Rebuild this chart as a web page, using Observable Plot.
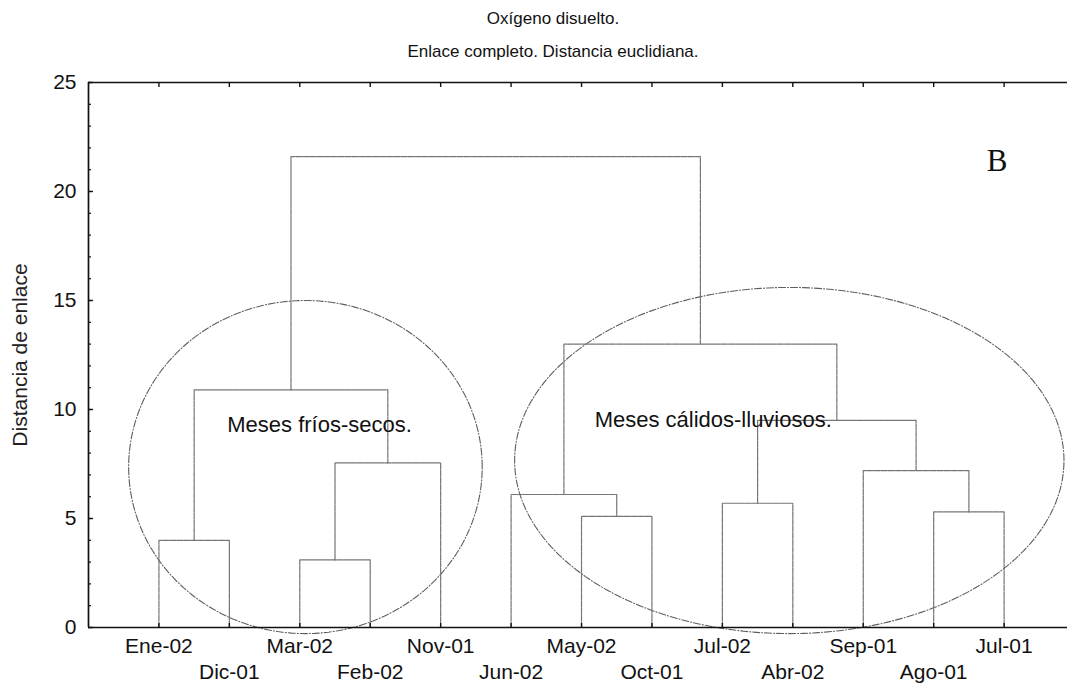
<!DOCTYPE html>
<html>
<head>
<meta charset="utf-8">
<script src="https://cdn.jsdelivr.net/npm/d3@7"></script>
<script src="https://cdn.jsdelivr.net/npm/@observablehq/plot@0.6"></script>
<style>
  html, body { margin: 0; padding: 0; background: #fff; }
  #chart svg { display: block; }
</style>
</head>
<body>
<div id="chart"></div>
<script>
// Months, in dendrogram leaf order
const leaves = ["Ene-02", "Dic-01", "Mar-02", "Feb-02", "Nov-01", "Jun-02", "May-02",
                "Oct-01", "Jul-02", "Abr-02", "Sep-01", "Ago-01", "Jul-01"];

// Complete-linkage merges: leaves are 0..12, merge k creates node 13 + k
const mergeA      = [2, 0, 6, 11, 8, 5, 10, 13, 17, 14, 18, 22];
const mergeB      = [3, 1, 7, 12, 9, 15, 16, 4, 19, 20, 21, 23];
const mergeHeight = [3.1, 4.0, 5.1, 5.3, 5.7, 6.1, 7.2, 7.55, 9.5, 10.9, 13.0, 21.6];

// Y axis ticks
const yMajor = [0, 5, 10, 15, 20, 25];
const yMinor = d3.range(0, 26);

// Cluster annotations (ellipse centre / radii in data units)
const groupNames = ["Meses fríos-secos.", "Meses cálidos-lluviosos."];
const groupLabelX = [3.28, 8.87];
const groupLabelY = [9.27, 9.5];
const ellipseCx = [3.08, 9.95];
const ellipseCy = [7.36, 7.66];
const ellipseRx = [2.51, 3.9];
const ellipseRy = [7.64, 7.94];

const panelLetter = "B";
const title1 = "Oxígeno disuelto.";
const title2 = "Enlace completo. Distancia euclidiana.";
const yTitle = "Distancia de enlace";

// Node positions: leaves sit at 1..n, internal nodes midway between children
const nodeX = leaves.map((_, i) => i + 1);
const nodeH = leaves.map(() => 0);
mergeA.forEach((a, k) => {
  const b = mergeB[k];
  nodeX.push((nodeX[a] + nodeX[b]) / 2);
  nodeH.push(mergeHeight[k]);
});

// Each merge is drawn as a bracket: up from child a, across, down to child b
const links = [];
mergeA.forEach((a, k) => {
  const b = mergeB[k], h = mergeHeight[k];
  links.push({k, x: nodeX[a], y: nodeH[a]});
  links.push({k, x: nodeX[a], y: h});
  links.push({k, x: nodeX[b], y: h});
  links.push({k, x: nodeX[b], y: nodeH[b]});
});

// Ellipse outlines around the two groups
const outlines = [];
groupNames.forEach((g, j) => {
  for (let s = 0; s <= 240; s++) {
    const t = (s / 240) * 2 * Math.PI;
    outlines.push({g, x: ellipseCx[j] + ellipseRx[j] * Math.cos(t), y: ellipseCy[j] + ellipseRy[j] * Math.sin(t)});
  }
});

const leafRows = leaves.map((name, i) => ({name, x: i + 1, row: i % 2}));
const leafTicks = leaves.map((_, i) => i + 1);
const groups = groupNames.map((name, j) => ({name, x: groupLabelX[j], y: groupLabelY[j]}));

const font = "'Liberation Sans', Arial, Helvetica, sans-serif";

const chart = Plot.plot({
  width: 1068,
  height: 699,
  marginTop: 82,
  marginBottom: 72,
  marginLeft: 88,
  marginRight: 1,
  style: {fontFamily: font, background: "#fff", color: "#111"},
  x: {domain: [0, 13.9]},
  y: {domain: [0, 25]},
  marks: [
    // ellipses
    Plot.line(outlines, {x: "x", y: "y", z: "g", stroke: "#5e5e5e", strokeWidth: 1.1, strokeDasharray: "7,2,1,2"}),
    // dendrogram brackets
    Plot.line(links, {x: "x", y: "y", z: "k", stroke: "#747474", strokeWidth: 1.2, strokeDasharray: "6,1", curve: "linear"}),
    // frame lines
    Plot.ruleY([0], {stroke: "#111", strokeWidth: 1.7}),
    Plot.ruleY([25], {stroke: "#111", strokeWidth: 1.7}),
    Plot.ruleX([0], {stroke: "#111", strokeWidth: 1.7}),
    // inward ticks
    Plot.axisY(yMajor, {tickSize: -5, fill: "none", tickFormat: () => "", label: null, strokeWidth: 1.4}),
    Plot.axisY(yMinor, {tickSize: -3, fill: "none", tickFormat: () => "", label: null, strokeWidth: 1.2}),
    Plot.axisX(leafTicks, {anchor: "bottom", tickSize: -4, fill: "none", tickFormat: () => "", label: null, strokeWidth: 1.4}),
    Plot.axisX(leafTicks, {anchor: "top", tickSize: -4, fill: "none", tickFormat: () => "", label: null, strokeWidth: 1.4}),
    // y tick labels
    Plot.axisY(yMajor, {tickSize: 0, tickPadding: 12, fontSize: 21, label: null, fill: "#111"}),
    // month labels, staggered on two rows
    Plot.text(leafRows.filter(d => d.row === 0), {x: "x", text: "name", frameAnchor: "bottom", dy: 25, fontSize: 21, fill: "#111"}),
    Plot.text(leafRows.filter(d => d.row === 1), {x: "x", text: "name", frameAnchor: "bottom", dy: 51, fontSize: 21, fill: "#111"}),
    // group annotations
    Plot.text(groups, {x: "x", y: "y", text: "name", fontSize: 22, fill: "#111"}),
    Plot.text([panelLetter], {x: 12.9, y: 21.4, text: d => d, fontSize: 31, fontFamily: "'Liberation Serif', 'Times New Roman', serif", fill: "#111"}),
    // y title
    Plot.text([yTitle], {text: d => d, frameAnchor: "left", textAnchor: "middle", dx: -68, rotate: -90, fontSize: 21, fill: "#222"}),
    // titles
    Plot.text([title1], {text: d => d, frameAnchor: "top", textAnchor: "middle", dx: -25, dy: -71, fontSize: 17, fill: "#111"}),
    Plot.text([title2], {text: d => d, frameAnchor: "top", textAnchor: "middle", dx: -25, dy: -38, fontSize: 17, fill: "#111"})
  ]
});

document.getElementById("chart").appendChild(chart);
</script>
</body>
</html>
